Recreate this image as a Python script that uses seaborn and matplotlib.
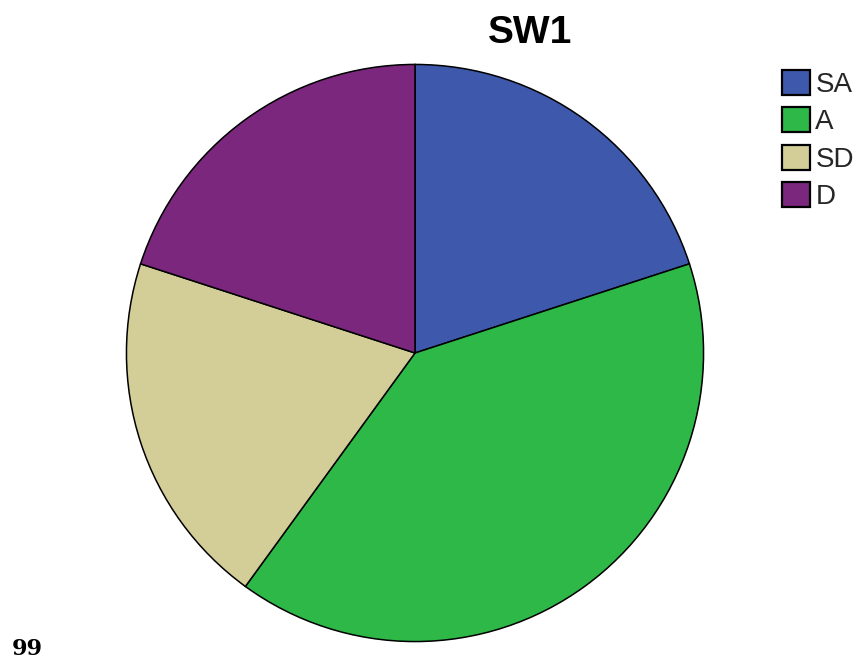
import matplotlib
matplotlib.use("Agg")
import matplotlib.pyplot as plt
import seaborn as sns

# Response shares for item SW1
categories = ["SA", "A", "SD", "D"]
percents = [20, 40, 20, 20]
slice_colors = ["#3E58AC", "#2EB848", "#D3CE97", "#7A277D"]
chart_title = "SW1"
page_number = "99"

sns.set_theme(style="white")
plt.rcParams["font.family"] = ["Liberation Sans", "DejaVu Sans"]
palette = sns.color_palette(slice_colors)

W, H = 858, 664
fig = plt.figure(figsize=(W / 100, H / 100), dpi=100)
fig.patch.set_facecolor("white")

# Pie placed by pixel box: centre (415, 353), radius 290
cx, cy, r = 415, 353, 290
ax = fig.add_axes([(cx - r) / W, (H - cy - r) / H, 2 * r / W, 2 * r / H])
wedges, _ = ax.pie(
    percents,
    colors=palette,
    startangle=90,
    counterclock=False,
    radius=1.0,
    wedgeprops=dict(edgecolor="black", linewidth=1.1),
)
ax.set_xlim(-1.005, 1.005)
ax.set_ylim(-1.005, 1.005)
ax.set_aspect("equal")
ax.axis("off")

fig.text(530 / W, 1 - 33 / H, chart_title, ha="center", va="center",
         fontsize=28, fontweight="bold", color="black")

leg = fig.legend(
    wedges, categories,
    loc="upper left",
    bbox_to_anchor=(782 / W, 1 - 70 / H),
    frameon=False,
    fontsize=20,
    handlelength=1.02,
    handleheight=1.0,
    handletextpad=0.18,
    labelspacing=0.34,
    borderpad=0,
    borderaxespad=0,
)
for h in leg.legend_handles:
    h.set_edgecolor("black")
    h.set_linewidth(1.6)

fig.text(12 / W, 1 - 649 / H, page_number, ha="left", va="center",
         fontsize=16, fontweight="bold", family=["DejaVu Serif"], color="black")

fig.savefig("out.png", dpi=100, facecolor="white")
